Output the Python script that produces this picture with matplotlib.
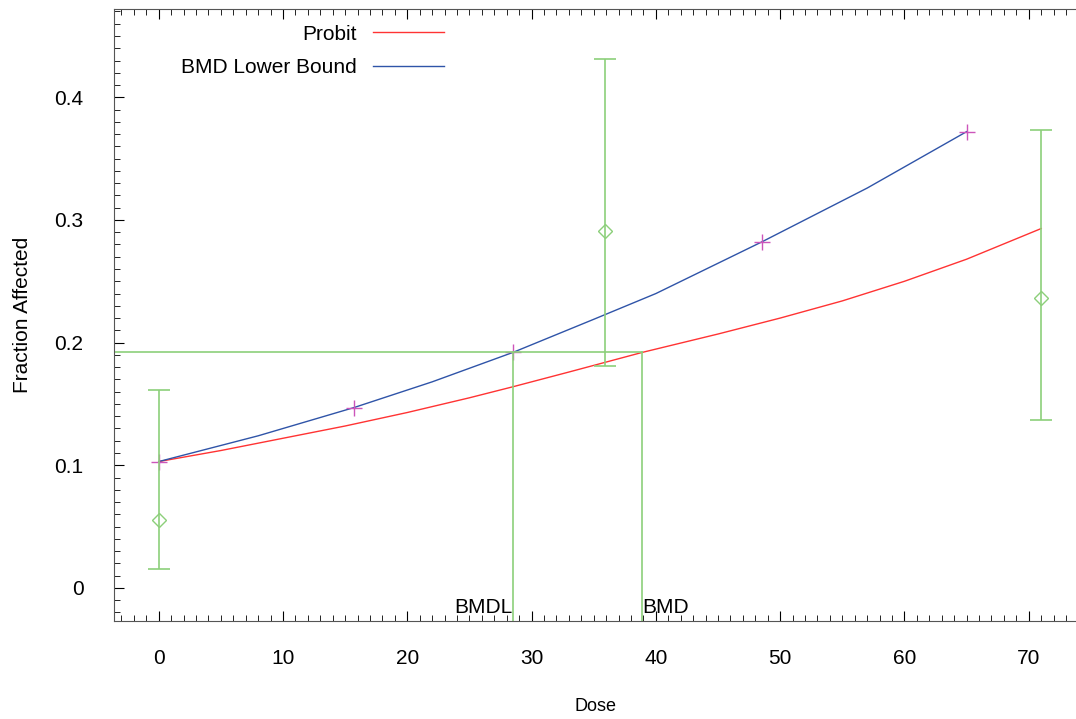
import matplotlib
matplotlib.use("Agg")
import matplotlib.pyplot as plt
from matplotlib.ticker import MultipleLocator

plt.rcParams['font.family'] = ['Liberation Sans', 'DejaVu Sans']

# fitted probit curve
probit_x = [0, 5, 10, 15, 20, 25, 28.5, 33, 38.9, 45, 50, 55, 60, 65, 71]
probit_y = [0.103, 0.112, 0.122, 0.132, 0.143, 0.155, 0.164, 0.176, 0.192, 0.207,
            0.220, 0.234, 0.250, 0.268, 0.293]

# BMD lower bound curve
lower_x = [0, 8, 15.7, 22, 28.5, 35, 40, 48.5, 57, 65.0]
lower_y = [0.103, 0.124, 0.147, 0.168, 0.192, 0.219, 0.240, 0.282, 0.326, 0.372]

# points marked on the lower bound curve
mark_x = [0, 15.7, 28.5, 48.5, 65.0]
mark_y = [0.103, 0.147, 0.192, 0.282, 0.372]

# observed data with confidence bars
dose = [0, 35.9, 71.0]
frac = [0.055, 0.291, 0.236]
ci_low = [0.015, 0.181, 0.137]
ci_high = [0.161, 0.431, 0.373]

bmr_level = 0.1925
bmdl = 28.5
bmd = 38.9

red = '#ff3333'
blue = '#2f54a8'
green = '#8ccf7a'
magenta = '#cc55bb'

fig = plt.figure(figsize=(10.76, 7.19), dpi=100)
ax = fig.add_axes([114 / 1076, 1 - 621 / 719, 962 / 1076, 612 / 719])

ax.plot(probit_x, probit_y, color=red, lw=1, label='Probit')
ax.plot(lower_x, lower_y, color=blue, lw=1, label='BMD Lower Bound')
ax.plot(mark_x, mark_y, ls='none', marker='+', ms=12, mew=1, color=magenta)

ax.errorbar(dose, frac,
            yerr=[[f - l for f, l in zip(frac, ci_low)], [h - f for f, h in zip(frac, ci_high)]],
            fmt='D', ms=7, mfc='none', mec=green, color=green, ecolor=green,
            elinewidth=1.2, capsize=8, capthick=1.2)

xmin, xmax = -3.6, 73.8
ymin, ymax = -0.027, 0.472
ax.plot([xmin, bmd], [bmr_level, bmr_level], color=green, lw=1.2)
ax.plot([bmdl, bmdl], [ymin, bmr_level], color=green, lw=1.2)
ax.plot([bmd, bmd], [ymin, bmr_level], color=green, lw=1.2)
ax.text(bmdl, ymin + 0.003, 'BMDL', ha='right', va='bottom', fontsize=15)
ax.text(bmd, ymin + 0.003, 'BMD', ha='left', va='bottom', fontsize=15)

ax.set_xlim(xmin, xmax)
ax.set_ylim(ymin, ymax)
ax.xaxis.set_major_locator(MultipleLocator(10))
ax.xaxis.set_minor_locator(MultipleLocator(1))
ax.yaxis.set_minor_locator(MultipleLocator(0.01))
ax.set_yticks([0, 0.1, 0.2, 0.3, 0.4])
ax.set_yticklabels(['0', '0.1', '0.2', '0.3', '0.4'])

ax.spines['right'].set_visible(False)
for s in ['left', 'bottom', 'top']:
    ax.spines[s].set_color('#555555')
ax.tick_params(which='both', direction='in', top=True, right=False, labelsize=15)
ax.tick_params(which='major', length=7)
ax.tick_params(which='minor', length=4)
ax.tick_params(axis='x', pad=20)
ax.tick_params(axis='y', pad=22)

ax.set_xlabel('Dose', fontsize=13, labelpad=22)
ax.set_ylabel('Fraction Affected', fontsize=15, labelpad=16)

leg = ax.legend(loc='upper left', bbox_to_anchor=(0.05, 1.005), frameon=False,
                fontsize=15, markerfirst=False, handlelength=3.4, labelspacing=0.7)
for t in leg.get_texts():
    t.set_ha('right')
leg._legend_box.align = 'right'

fig.savefig('out.png', dpi=100)
